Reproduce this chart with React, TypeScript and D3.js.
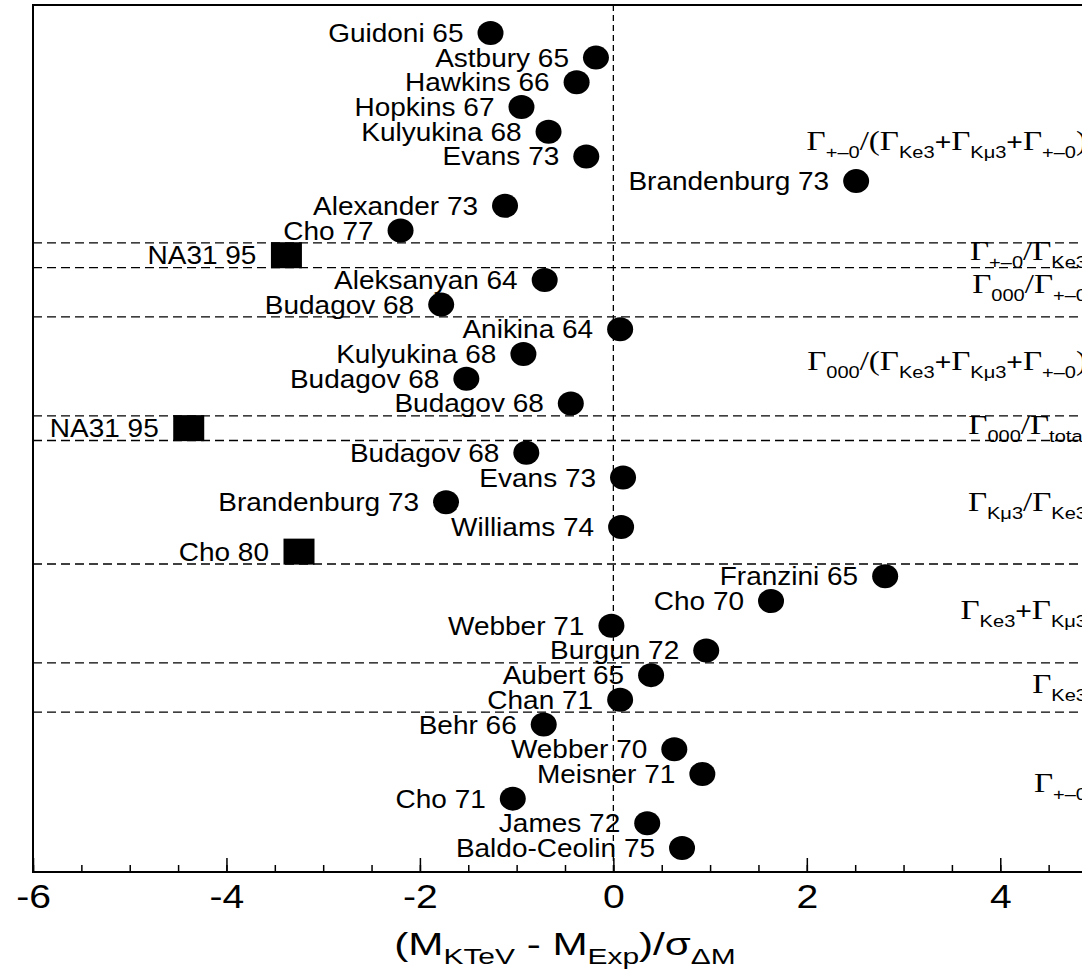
import React, { useEffect, useRef } from 'react';
import * as d3 from 'd3';

// one row per measurement, top to bottom
const experiments = [
  'Guidoni 65', 'Astbury 65', 'Hawkins 66', 'Hopkins 67', 'Kulyukina 68', 'Evans 73',
  'Brandenburg 73', 'Alexander 73', 'Cho 77',
  'NA31 95',
  'Aleksanyan 64', 'Budagov 68',
  'Anikina 64', 'Kulyukina 68', 'Budagov 68', 'Budagov 68',
  'NA31 95',
  'Budagov 68', 'Evans 73', 'Brandenburg 73', 'Williams 74', 'Cho 80',
  'Franzini 65', 'Cho 70', 'Webber 71', 'Burgun 72',
  'Aubert 65', 'Chan 71',
  'Behr 66', 'Webber 70', 'Meisner 71', 'Cho 71', 'James 72', 'Baldo-Ceolin 75',
];

const deviations = [
  -1.27, -0.18, -0.38, -0.95, -0.67, -0.28,
  2.51, -1.12, -2.2,
  -3.38,
  -0.71, -1.78,
  0.07, -0.93, -1.52, -0.44,
  -4.39,
  -0.9, 0.1, -1.73, 0.08, -3.25,
  2.81, 1.63, -0.02, 0.96,
  0.39, 0.07,
  -0.72, 0.63, 0.92, -1.04, 0.35, 0.71,
];

// rows drawn with a square marker
const squareRows = [9, 16, 21];

// dashed separators between groups (in row units)
const separatorRows = [8.5, 9.5, 11.5, 15.5, 16.5, 21.5, 25.5, 27.5];

const groupLabels = [
  'Γ_{+–0}/(Γ_{Ke3}+Γ_{Kμ3}+Γ_{+–0})',
  'Γ_{+–0}/Γ_{Ke3}',
  'Γ_{000}/Γ_{+–0}',
  'Γ_{000}/(Γ_{Ke3}+Γ_{Kμ3}+Γ_{+–0})',
  'Γ_{000}/Γ_{total}',
  'Γ_{Kμ3}/Γ_{Ke3}',
  'Γ_{Ke3}+Γ_{Kμ3}',
  'Γ_{Ke3}',
  'Γ_{+–0}',
];
const groupLabelRows = [4.5, 8.95, 10.3, 13.4, 16, 19.1, 23.5, 26.5, 30.5];

const tickValues = [-6, -4, -2, 0, 2, 4];
const tickLabels = ['-6', '-4', '-2', '0', '2', '4'];
const axisTitle = '(M_{KTeV} - M_{Exp})/σ_{ΔM}';

const sans = '"Liberation Sans", Arial, Helvetica, sans-serif';
const serif = '"Liberation Serif", "Times New Roman", serif';

// split "A_{b}C" into [{t:'A',sub:false},{t:'b',sub:true},{t:'C',sub:false}]
const parseSub = (s: string) => {
  const parts: { t: string; sub: boolean }[] = [];
  const re = /_\{([^}]*)\}/g;
  let last = 0;
  let m;
  while ((m = re.exec(s)) !== null) {
    if (m.index > last) parts.push({ t: s.slice(last, m.index), sub: false });
    parts.push({ t: m[1], sub: true });
    last = m.index + m[0].length;
  }
  if (last < s.length) parts.push({ t: s.slice(last), sub: false });
  return parts;
};

const App = () => {
  const ref = useRef<SVGSVGElement>(null);

  useEffect(() => {
    const svg = d3.select(ref.current);
    svg.selectAll('*').remove();

    const x = d3.scaleLinear().domain([-6, 5]).range([33, 1097]);
    const y = d3.scaleLinear().domain([-1.13, 33.97]).range([5, 872]);
    const [top, bottom] = y.range();
    const isSquare = (i: number) => squareRows.includes(i);
    const rows = deviations.map((v, i) => ({ v, i }));

    // separators
    svg
      .append('g')
      .selectAll('line')
      .data(separatorRows)
      .join('line')
      .attr('x1', x(-6))
      .attr('x2', x(5))
      .attr('y1', (d) => y(d))
      .attr('y2', (d) => y(d))
      .attr('stroke', '#000')
      .attr('stroke-width', 1.3)
      .attr('stroke-dasharray', '9,5');

    // zero line
    svg
      .append('line')
      .attr('x1', x(0))
      .attr('x2', x(0))
      .attr('y1', top)
      .attr('y2', bottom)
      .attr('stroke', '#000')
      .attr('stroke-width', 1.3)
      .attr('stroke-dasharray', '6,4');

    // frame
    svg
      .append('rect')
      .attr('x', x(-6))
      .attr('y', top)
      .attr('width', x(5) - x(-6))
      .attr('height', bottom - top)
      .attr('fill', 'none')
      .attr('stroke', '#000')
      .attr('stroke-width', 2);

    // minor ticks pointing inwards
    svg
      .append('g')
      .attr('transform', `translate(0,${bottom})`)
      .call(d3.axisBottom(x).tickValues(d3.range(-6, 5.01, 0.5)).tickSize(-7).tickSizeOuter(0).tickFormat(() => ''))
      .call((g) => g.select('.domain').remove())
      .call((g) => g.selectAll('line').attr('stroke-width', 1.5));

    // major ticks + labels
    const major = svg
      .append('g')
      .attr('transform', `translate(0,${bottom})`)
      .call(
        d3
          .axisBottom(x)
          .tickValues(tickValues)
          .tickSize(-14)
          .tickSizeOuter(0)
          .tickPadding(12)
          .tickFormat((d, i) => tickLabels[i])
      );
    major.select('.domain').remove();
    major.selectAll('line').attr('stroke-width', 1.5);
    major
      .selectAll('text')
      .attr('font-family', sans)
      .attr('font-size', 34)
      .attr('fill', '#000')
      .attr('transform', 'scale(1.15,1)');

    // markers
    svg
      .append('g')
      .selectAll('ellipse')
      .data(rows.filter((d) => !isSquare(d.i)))
      .join('ellipse')
      .attr('cx', (d) => x(d.v))
      .attr('cy', (d) => y(d.i))
      .attr('rx', 13)
      .attr('ry', 12)
      .attr('fill', '#000');

    svg
      .append('g')
      .selectAll('rect')
      .data(rows.filter((d) => isSquare(d.i)))
      .join('rect')
      .attr('x', (d) => x(d.v) - 15.5)
      .attr('y', (d) => y(d.i) - 13)
      .attr('width', 31)
      .attr('height', 26)
      .attr('fill', '#000');

    // experiment labels
    svg
      .append('g')
      .selectAll('text')
      .data(experiments)
      .join('text')
      .attr('transform', (d, i) => `translate(${x(deviations[i]) - (isSquare(i) ? 30 : 27)},${y(i) + 9}) scale(1.12,1)`)
      .attr('text-anchor', 'end')
      .attr('font-family', sans)
      .attr('font-size', 25)
      .attr('fill', '#000')
      .text((d) => d);

    // group labels on the right
    groupLabels.forEach((lab, k) => {
      const t = svg
        .append('text')
        .attr('transform', `translate(1087,${y(groupLabelRows[k]) + 6}) scale(1.18,1)`)
        .attr('text-anchor', 'end')
        .attr('fill', '#000');
      let off = 0;
      parseSub(lab).forEach((p) => {
        if (p.sub) {
          t.append('tspan').attr('dy', 8 - off).attr('font-family', sans).attr('font-size', 17).text(p.t);
          off = 8;
        } else {
          // "+" is set in sans, the rest (Γ, /, brackets) in serif
          p.t.split(/(\+)/).filter((s) => s.length).forEach((s) => {
            t.append('tspan')
              .attr('dy', -off)
              .attr('font-family', s === '+' ? sans : serif)
              .attr('font-size', s === '+' ? 24 : 28)
              .text(s);
            off = 0;
          });
        }
      });
    });

    // axis title
    const title = svg
      .append('text')
      .attr('transform', `translate(${(x(-6) + x(5)) / 2},955) scale(1.36,1)`)
      .attr('text-anchor', 'middle')
      .attr('font-family', sans)
      .attr('fill', '#000');
    let off = 0;
    parseSub(axisTitle).forEach((p) => {
      if (p.sub) {
        title.append('tspan').attr('dy', 9 - off).attr('font-size', 22).text(p.t);
        off = 9;
      } else {
        title.append('tspan').attr('dy', -off).attr('font-size', 31).text(p.t);
        off = 0;
      }
    });
  }, []);

  return (
    <svg
      ref={ref}
      width={1082}
      height={977}
      style={{ position: 'absolute', left: 0, top: 0, background: '#fff', overflow: 'hidden' }}
    />
  );
};

export default App;
